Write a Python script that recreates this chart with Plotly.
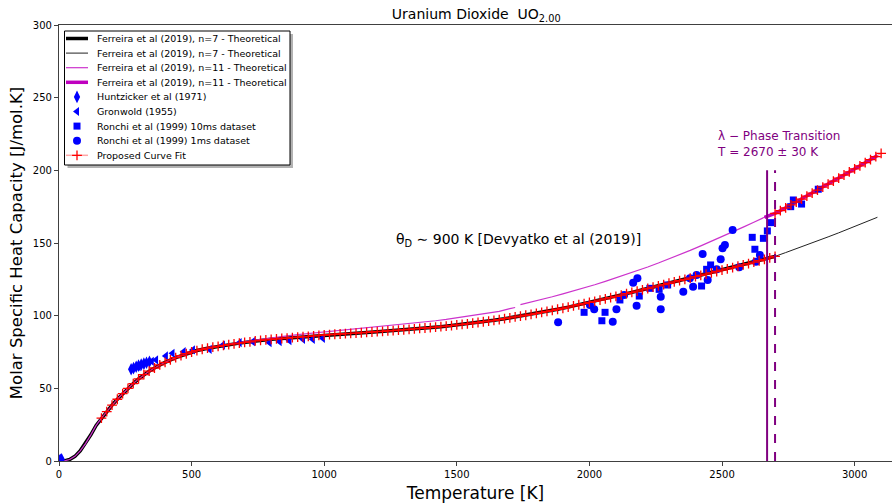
import plotly.graph_objects as go

# ---------------- data ----------------
# Ferreira et al (2019), n=7 theoretical curve
n7_T = [0, 20, 40, 60, 80, 100, 120, 140, 160, 180, 200, 220, 240, 260, 280, 300, 320, 340, 360, 380,
        400, 440, 480, 520, 560, 600, 640, 680, 720, 760, 800, 840, 880, 920, 960, 1000, 1040, 1080,
        1120, 1160, 1200, 1240, 1280, 1320, 1360, 1400, 1440, 1480, 1520, 1560, 1600, 1640, 1680,
        1720, 1760, 1800, 1840, 1880, 1920, 1960, 2000, 2040, 2080, 2120, 2160, 2200, 2240, 2280,
        2320, 2360, 2400, 2440, 2480, 2520, 2560, 2600, 2640, 2680, 2700, 2740, 2780, 2820, 2860,
        2900, 2940, 2980, 3020, 3060, 3086]
n7_C = [0.0, 0.1, 1.0, 3.2, 7.0, 12.0, 18.0, 24.5, 29.5, 34.0, 38.5, 42.5, 46.3, 50.0, 53.3, 56.5,
        59.4, 61.8, 64.0, 66.1, 67.9, 71.1, 73.8, 76.0, 77.6, 78.9, 80.1, 81.1, 82.0, 83.0, 83.7,
        84.3, 84.9, 85.5, 86.1, 86.7, 87.2, 87.6, 88.0, 88.5, 89.0, 89.5, 90.0, 90.6, 91.2, 91.8,
        92.4, 93.2, 94.0, 94.8, 95.8, 96.8, 97.9, 99.1, 100.3, 101.6, 103.0, 104.4, 105.9, 107.5,
        109.1, 110.7, 112.4, 114.2, 116.0, 117.8, 119.6, 121.4, 123.2, 125.0, 126.8, 128.6, 130.4,
        132.2, 134.0, 135.8, 137.8, 139.8, 140.8, 143.4, 146.0, 148.7, 151.4, 154.2, 157.0, 159.9,
        162.8, 165.8, 167.7]
n7_thick_end = 2700

# Ferreira et al (2019), n=11 theoretical curve (None = small gap in the line)
n11_T = [0, 20, 40, 60, 80, 100, 120, 140, 160, 180, 200, 220, 240, 260, 280, 300, 320, 340, 360,
         380, 400, 440, 480, 500, 540, 580, 620, 660, 700, 740, 780, 820, 860, 900, 940, 980, 1020,
         1060, 1100, 1140, 1180, 1220, 1260, 1300, 1340, 1380, 1420, 1460, 1500, 1540, 1580, 1620,
         1660, 1700, 1720, 1730, 1740, 1780, 1820, 1860, 1900, 1940, 1980, 2020, 2060, 2100, 2140,
         2180, 2220, 2260, 2300, 2340, 2380, 2420, 2460, 2500, 2540, 2580, 2620, 2660, 2700, 2740,
         2780, 2820, 2860, 2900, 2940, 2980, 3020, 3060, 3086]
n11_C = [0.0, 0.1, 1.0, 3.2, 7.0, 12.0, 18.0, 24.5, 29.5, 34.0, 38.5, 42.5, 46.3, 50.0, 53.3, 56.5,
         59.4, 61.8, 64.0, 66.1, 67.9, 71.1, 73.8, 75.0, 77.0, 78.5, 79.8, 81.0, 82.1, 83.2, 84.2,
         85.2, 86.1, 87.0, 87.7, 88.4, 89.1, 89.8, 90.5, 91.2, 91.9, 92.6, 93.3, 94.0, 94.8, 95.6,
         96.5, 97.4, 98.4, 99.4, 100.5, 101.7, 102.9, 104.8, 105.6, None, 107.6, 109.3, 111.1,
         113.0, 115.0, 117.0, 119.1, 121.3, 123.6, 126.0, 128.4, 130.9, 133.5, 136.2, 139.0, 141.9,
         144.9, 148.0, 151.1, 154.3, 157.6, 160.9, 164.3, 167.7, 170.3, 174.2, 178.2, 182.3, 186.4,
         190.5, 194.7, 198.9, 203.1, 207.4, 210.2]
n11_thick_start = 2660

# Huntzicker et al (1971)
hunt_T = [2, 6, 10, 272, 281, 291, 300, 310, 320, 330, 341]
hunt_C = [0.3, 0.8, 1.2, 63.1, 63.9, 64.9, 65.6, 66.3, 67.0, 67.6, 68.3]

# Gronwold (1955)
gron_T = [300, 316, 350, 366, 403, 428, 470, 505, 568, 618, 681, 731, 794, 832, 869, 920, 957, 995]
gron_C = [65.0, 66.6, 68.6, 69.5, 72.3, 74.1, 75.2, 76.4, 76.8, 79.8, 81.4, 82.1, 81.4, 82.1, 82.8,
          83.7, 83.7, 84.4]

# Ronchi et al (1999) 10ms dataset
r10_T = [1980, 2047, 2059, 2115, 2188, 2228, 2263, 2295, 2423, 2442, 2457, 2614, 2624, 2656, 2671,
         2683, 2759, 2769, 2800, 2863]
r10_C = [102.3, 96.5, 102.3, 110.8, 113.5, 118.8, 118.1, 121.1, 120.4, 131.9, 134.9, 153.9, 145.7,
         153.2, 158.3, 164.0, 175.0, 179.6, 176.8, 187.0]

# Ronchi et al (1999) 1ms dataset
r1_T = [1882, 2002, 2018, 2088, 2102, 2131, 2165, 2178, 2181, 2269, 2269, 2354, 2379, 2391, 2404,
        2427, 2446, 2480, 2495, 2502, 2511, 2540, 2565, 2628, 2643]
r1_C = [95.4, 107.3, 104.4, 95.9, 104.4, 114.2, 122.7, 106.9, 125.7, 113.1, 104.4, 116.5, 125.7,
        119.9, 128.0, 142.4, 124.5, 131.9, 138.8, 146.4, 148.6, 158.9, 133.3, 137.1, 141.7]

# Proposed Curve Fit (lower branch below the transition, upper branch above it)
fit_lo_T = list(range(160, 2701, 20))
fit_lo_C = [29.5, 34.0, 38.5, 42.5, 46.3, 50.0, 53.3, 56.5, 59.4, 61.8, 64.0, 66.1, 67.9, 69.6, 71.1,
            72.5, 73.8, 75.0, 76.0, 76.9, 77.6, 78.3, 78.9, 79.5, 80.1, 80.6, 81.1, 81.6, 82.0, 82.6,
            83.0, 83.4, 83.7, 84.0, 84.3, 84.6, 84.9, 85.2, 85.5, 85.8, 86.1, 86.4, 86.7, 86.95,
            87.2, 87.4, 87.6, 87.8, 88.0, 88.25, 88.5, 88.75, 89.0, 89.25, 89.5, 89.75, 90.0, 90.3,
            90.6, 90.9, 91.2, 91.5, 91.8, 92.1, 92.4, 92.8, 93.2, 93.6, 94.0, 94.4, 94.8, 95.3,
            95.8, 96.3, 96.8, 97.3, 97.9, 98.5, 99.1, 99.7, 100.3, 100.9, 101.6, 102.3, 103.0,
            103.7, 104.4, 105.1, 105.9, 106.7, 107.5, 108.3, 109.1, 109.9, 110.7, 111.5, 112.4,
            113.3, 114.2, 115.1, 116.0, 116.9, 117.8, 118.7, 119.6, 120.5, 121.4, 122.3, 123.2,
            124.1, 125.0, 125.9, 126.8, 127.7, 128.6, 129.5, 130.4, 131.3, 132.2, 133.1, 134.0,
            134.9, 135.8, 136.8, 137.8, 138.8, 139.8, 140.8]
fit_hi_T = list(range(2700, 3101, 20))
fit_hi_C = [170.3, 172.3, 174.2, 176.2, 178.2, 180.2, 182.3, 184.3, 186.4, 188.4, 190.5, 192.6,
            194.7, 196.8, 198.9, 201.0, 203.1, 205.3, 207.4, 209.5, 211.6]

# lambda phase transition markers
trans_T = [2670, 2700]
trans_top = 200

x_ticks = [0, 500, 1000, 1500, 2000, 2500, 3000]
y_ticks = [0, 50, 100, 150, 200, 250, 300]

legend_labels = ["Ferreira et al (2019), n=7 - Theoretical",
                 "Ferreira et al (2019), n=7 - Theoretical",
                 "Ferreira et al (2019), n=11 - Theoretical",
                 "Ferreira et al (2019), n=11 - Theoretical",
                 "Huntzicker et al (1971)",
                 "Gronwold (1955)",
                 "Ronchi et al (1999) 10ms dataset",
                 "Ronchi et al (1999) 1ms dataset",
                 "Proposed Curve Fit"]

# ---------------- styling ----------------
FONT = "DejaVu Sans"
BLUE = "#0000ff"
W, H = 892, 503
ML, MR, MT, MB = 59, 0, 25, 42
PW, PH = W - ML - MR, H - MT - MB


def px_x(px):  # figure pixel -> plot-area fraction
    return (px - ML) / PW


def px_y(py):
    return (H - MB - py) / PH


styles = [
    dict(kind="line", line=dict(color="black", width=3.5)),
    dict(kind="line", line=dict(color="#222222", width=1)),
    dict(kind="line", line=dict(color="#cc33cc", width=1.2)),
    dict(kind="line", line=dict(color="#bf00bf", width=3.5)),
    dict(kind="marker", marker=dict(symbol="diamond-tall", size=9, color=BLUE)),
    dict(kind="marker", marker=dict(symbol="triangle-left", size=8, color=BLUE)),
    dict(kind="marker", marker=dict(symbol="square", size=7, color=BLUE)),
    dict(kind="marker", marker=dict(symbol="circle", size=8, color=BLUE)),
    dict(kind="both", line=dict(color="rgba(255,0,0,0.35)", width=1.5),
         marker=dict(symbol="cross-thin", size=7, color="red", line=dict(color="red", width=1.3))),
]

fig = go.Figure()

thick_T = [t for t in n7_T if t <= n7_thick_end]
thick_C = n7_C[:len(thick_T)]
fig.add_trace(go.Scatter(x=thick_T, y=thick_C, mode="lines", line=styles[0]["line"]))
fig.add_trace(go.Scatter(x=n7_T, y=n7_C, mode="lines", line=styles[1]["line"]))
fig.add_trace(go.Scatter(x=n11_T, y=n11_C, mode="lines", line=styles[2]["line"], connectgaps=False))
i0 = n11_T.index(n11_thick_start)
fig.add_trace(go.Scatter(x=n11_T[i0:], y=n11_C[i0:], mode="lines", line=styles[3]["line"]))
fig.add_trace(go.Scatter(x=hunt_T, y=hunt_C, mode="markers", marker=styles[4]["marker"]))
fig.add_trace(go.Scatter(x=gron_T, y=gron_C, mode="markers", marker=styles[5]["marker"]))
fig.add_trace(go.Scatter(x=r10_T, y=r10_C, mode="markers", marker=styles[6]["marker"]))
fig.add_trace(go.Scatter(x=r1_T, y=r1_C, mode="markers", marker=styles[7]["marker"]))
fit_T = fit_lo_T + [None] + fit_hi_T
fit_C = fit_lo_C + [None] + fit_hi_C
fig.add_trace(go.Scatter(x=fit_T, y=fit_C, mode="lines+markers", line=styles[8]["line"],
                         marker=styles[8]["marker"]))

# vertical transition lines
fig.add_trace(go.Scatter(x=[trans_T[0], trans_T[0]], y=[0, trans_top], mode="lines",
                         line=dict(color="purple", width=2), hoverinfo="skip"))
fig.add_trace(go.Scatter(x=[trans_T[1], trans_T[1]], y=[0, trans_top], mode="lines",
                         line=dict(color="purple", width=2, dash="dash"), hoverinfo="skip"))

# ---------- legend drawn on an overlay axis spanning the plot area ----------
ov = dict(xaxis="x2", yaxis="y2", hoverinfo="skip")
bx0, by0, bx1, by1 = 64.5, 31, 290, 165
sh = 3
fig.add_trace(go.Scatter(x=[px_x(bx0 + sh), px_x(bx1 + sh), px_x(bx1 + sh), px_x(bx0 + sh), px_x(bx0 + sh)],
                         y=[px_y(by0 + sh), px_y(by0 + sh), px_y(by1 + sh), px_y(by1 + sh), px_y(by0 + sh)],
                         mode="lines", fill="toself", fillcolor="rgba(0,0,0,0.3)",
                         line=dict(width=0, color="rgba(0,0,0,0)"), **ov))
fig.add_trace(go.Scatter(x=[px_x(bx0), px_x(bx1), px_x(bx1), px_x(bx0), px_x(bx0)],
                         y=[px_y(by0), px_y(by0), px_y(by1), px_y(by1), px_y(by0)],
                         mode="lines", fill="toself", fillcolor="white",
                         line=dict(width=1, color="black"), **ov))
row0, step = 38.5, 14.6
lx0, lx1, tx = 66, 88, 95
for k, (lab, st) in enumerate(zip(legend_labels, styles)):
    yc = px_y(row0 + k * step)
    if st["kind"] in ("line", "both"):
        fig.add_trace(go.Scatter(x=[px_x(lx0), px_x(lx1)], y=[yc, yc], mode="lines",
                                 line=st["line"], **ov))
    if st["kind"] in ("marker", "both"):
        fig.add_trace(go.Scatter(x=[px_x((lx0 + lx1) / 2)], y=[yc], mode="markers",
                                 marker=st["marker"], **ov))
    fig.add_annotation(x=px_x(tx), y=yc, xref="paper", yref="paper", text=lab, showarrow=False,
                       xanchor="left", yanchor="middle",
                       font=dict(family=FONT, size=9.5, color="black"))

fig.add_annotation(x=1734, y=152, xref="x", yref="y", showarrow=False,
                   text="θ<sub>D</sub> ∼ 900 K [Devyatko et al (2019)]",
                   font=dict(family=FONT, size=14, color="black"))
fig.add_annotation(x=2473, y=218, xref="x", yref="y", showarrow=False, xanchor="left",
                   text="λ − Phase Transition<br>T = 2670 ± 30 K", align="left",
                   font=dict(family=FONT, size=12, color="purple"))

axis_common = dict(showline=True, mirror=True, linecolor="#404040", linewidth=1.2,
                   ticks="outside", ticklen=4, tickcolor="#404040", showgrid=False,
                   zeroline=False, tickfont=dict(family=FONT, size=10, color="black"))
fig.update_xaxes(range=[0, 3141], tickvals=x_ticks, **axis_common,
                 title=dict(text="Temperature [K]", font=dict(family=FONT, size=17, color="black"),
                            standoff=8))
fig.update_yaxes(range=[0, 300], tickvals=y_ticks, **axis_common,
                 title=dict(text="Molar Specific Heat Capacity [J/mol.K]",
                            font=dict(family=FONT, size=16.5, color="black"), standoff=6))

fig.update_layout(
    width=W, height=H,
    margin=dict(l=ML, r=MR, t=MT, b=MB),
    paper_bgcolor="white", plot_bgcolor="white",
    font=dict(family=FONT, color="black"),
    xaxis2=dict(overlaying="x", range=[0, 1], visible=False, fixedrange=True),
    yaxis2=dict(overlaying="y", range=[0, 1], visible=False, fixedrange=True),
    title=dict(text="Uranium Dioxide  UO<sub>2.00</sub>", x=0.5339, xanchor="center",
               y=0.972, yanchor="middle", font=dict(family=FONT, size=14, color="black")),
    showlegend=False,
)

fig.write_html("out.html")
